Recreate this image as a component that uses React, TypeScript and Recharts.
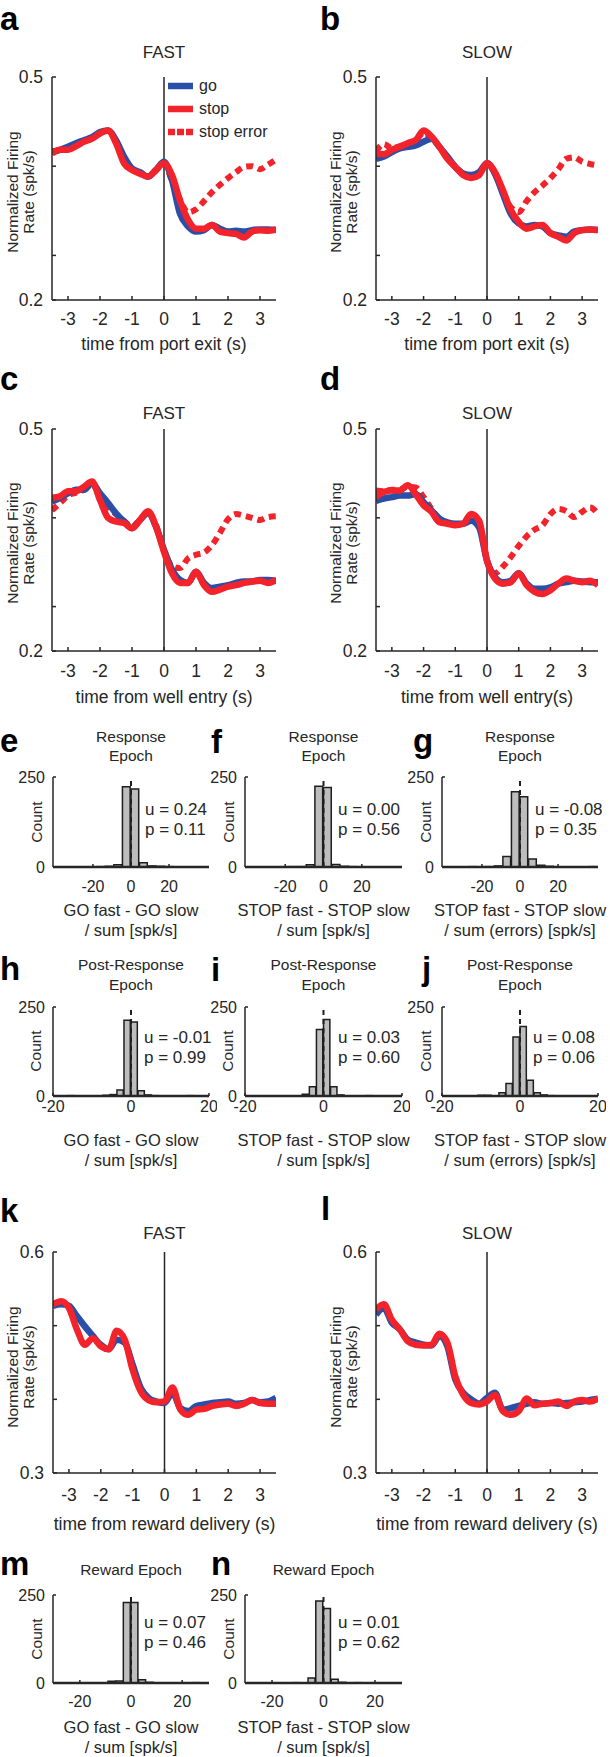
import React from 'react'
import { LineChart, Line, XAxis, YAxis, ReferenceLine, BarChart, Bar } from 'recharts'

const FONT = '"Liberation Sans", Arial, Helvetica, sans-serif'
const INK = '#262626'
const GO_BLUE = '#2a4fa8'
const STOP_RED = '#f2232b'
const BAR_GRAY = '#bdbdbd'

// time axis shared by every PSTH panel (s)
const times = [
  -3.5, -3.25, -3, -2.75, -2.5, -2.25, -2, -1.75, -1.5, -1.25, -1, -0.75, -0.5, -0.25,
  0, 0.25, 0.5, 0.75, 1, 1.25, 1.5, 1.75, 2, 2.25, 2.5, 2.75, 3, 3.25, 3.5,
]
const timeTicks = [-3, -2, -1, 0, 1, 2, 3]

// a: FAST, port exit
const aGo = [0.399, 0.402, 0.406, 0.411, 0.415, 0.419, 0.426, 0.428, 0.415, 0.393, 0.377, 0.372, 0.366, 0.375, 0.386, 0.361, 0.316, 0.299, 0.292, 0.294, 0.301, 0.296, 0.292, 0.293, 0.292, 0.294, 0.295, 0.295, 0.294]
const aStop = [0.397, 0.402, 0.402, 0.407, 0.413, 0.417, 0.424, 0.428, 0.411, 0.384, 0.375, 0.37, 0.366, 0.375, 0.384, 0.368, 0.334, 0.308, 0.296, 0.296, 0.301, 0.292, 0.29, 0.289, 0.284, 0.292, 0.294, 0.293, 0.295]
const aErr = [0.4, 0.402, 0.405, 0.409, 0.414, 0.418, 0.425, 0.428, 0.413, 0.388, 0.376, 0.371, 0.366, 0.374, 0.384, 0.36, 0.335, 0.318, 0.322, 0.333, 0.345, 0.355, 0.364, 0.372, 0.379, 0.38, 0.376, 0.382, 0.389]
// b: SLOW, port exit
const bGo = [0.39, 0.393, 0.399, 0.404, 0.406, 0.408, 0.413, 0.417, 0.406, 0.393, 0.379, 0.37, 0.368, 0.372, 0.384, 0.37, 0.343, 0.316, 0.303, 0.299, 0.301, 0.299, 0.29, 0.287, 0.285, 0.292, 0.294, 0.295, 0.294]
const bStop = [0.397, 0.396, 0.402, 0.406, 0.411, 0.415, 0.428, 0.42, 0.406, 0.39, 0.379, 0.368, 0.364, 0.368, 0.384, 0.372, 0.348, 0.321, 0.305, 0.296, 0.299, 0.301, 0.29, 0.285, 0.28, 0.29, 0.294, 0.295, 0.294]
const bErr = [0.4, 0.41, 0.404, 0.407, 0.41, 0.414, 0.425, 0.418, 0.406, 0.39, 0.38, 0.37, 0.366, 0.37, 0.384, 0.37, 0.345, 0.325, 0.318, 0.333, 0.345, 0.354, 0.364, 0.376, 0.39, 0.392, 0.386, 0.383, 0.381]
// c: FAST, well entry
const cGo = [0.402, 0.407, 0.413, 0.418, 0.418, 0.427, 0.413, 0.4, 0.386, 0.375, 0.366, 0.377, 0.386, 0.368, 0.337, 0.31, 0.296, 0.292, 0.307, 0.292, 0.285, 0.287, 0.289, 0.292, 0.294, 0.294, 0.296, 0.296, 0.295]
const cStop = [0.407, 0.409, 0.416, 0.416, 0.422, 0.429, 0.404, 0.38, 0.375, 0.373, 0.366, 0.377, 0.389, 0.368, 0.334, 0.305, 0.292, 0.292, 0.307, 0.289, 0.28, 0.283, 0.287, 0.289, 0.292, 0.294, 0.295, 0.292, 0.296]
const cErr = [0.39, 0.4, 0.41, 0.414, 0.418, 0.425, 0.41, 0.395, 0.385, 0.376, 0.368, 0.378, 0.387, 0.37, 0.335, 0.315, 0.312, 0.325, 0.33, 0.333, 0.343, 0.36, 0.378, 0.385, 0.383, 0.38, 0.377, 0.381, 0.382]
// d: SLOW, well entry
const dGo = [0.403, 0.406, 0.408, 0.41, 0.41, 0.412, 0.401, 0.39, 0.379, 0.374, 0.372, 0.372, 0.376, 0.367, 0.322, 0.3, 0.293, 0.295, 0.305, 0.291, 0.284, 0.284, 0.286, 0.291, 0.293, 0.295, 0.294, 0.293, 0.293]
const dStop = [0.408, 0.415, 0.417, 0.417, 0.424, 0.412, 0.397, 0.388, 0.374, 0.372, 0.37, 0.372, 0.385, 0.376, 0.322, 0.298, 0.291, 0.293, 0.305, 0.289, 0.28, 0.277, 0.282, 0.291, 0.298, 0.295, 0.293, 0.295, 0.289]
const dErr = [0.417, 0.416, 0.418, 0.418, 0.422, 0.421, 0.408, 0.392, 0.378, 0.373, 0.371, 0.373, 0.384, 0.374, 0.322, 0.305, 0.314, 0.327, 0.342, 0.355, 0.364, 0.37, 0.385, 0.392, 0.389, 0.381, 0.388, 0.394, 0.385]
// k: FAST, reward delivery
const kGo = [0.527, 0.529, 0.527, 0.513, 0.499, 0.486, 0.474, 0.468, 0.481, 0.477, 0.447, 0.416, 0.402, 0.397, 0.395, 0.409, 0.388, 0.384, 0.391, 0.393, 0.395, 0.396, 0.397, 0.394, 0.395, 0.399, 0.396, 0.397, 0.402]
const kStop = [0.529, 0.533, 0.524, 0.495, 0.474, 0.483, 0.472, 0.468, 0.493, 0.481, 0.44, 0.411, 0.399, 0.396, 0.397, 0.416, 0.386, 0.379, 0.386, 0.387, 0.391, 0.393, 0.394, 0.391, 0.394, 0.399, 0.395, 0.394, 0.394]
// l: SLOW, reward delivery
const lGo = [0.515, 0.524, 0.504, 0.495, 0.481, 0.477, 0.474, 0.473, 0.486, 0.472, 0.427, 0.409, 0.4, 0.394, 0.402, 0.409, 0.386, 0.388, 0.391, 0.394, 0.396, 0.394, 0.395, 0.394, 0.395, 0.396, 0.397, 0.399, 0.401]
const lStop = [0.522, 0.529, 0.508, 0.495, 0.479, 0.474, 0.473, 0.474, 0.489, 0.477, 0.431, 0.406, 0.395, 0.393, 0.397, 0.406, 0.384, 0.379, 0.384, 0.401, 0.392, 0.394, 0.395, 0.397, 0.391, 0.397, 0.399, 0.397, 0.401]

// histograms: bin centres and counts
const eBins = [-15.75, -11.25, -6.75, -2.25, 2.25, 6.75, 11.25, 15.75, 20.25]
const eCounts = [1, 2, 6, 223, 217, 12, 3, 2, 1]
const fBins = [-15.75, -11.25, -6.75, -2.25, 2.25, 6.75, 11.25, 15.75]
const fCounts = [1, 1, 6, 224, 221, 7, 2, 1]
const gBins = [-24.75, -15.75, -11.25, -6.75, -2.25, 2.25, 6.75, 11.25, 15.75, 38.25]
const gCounts = [1, 1, 3, 29, 209, 195, 22, 5, 2, 1]
const hBins = [-15.3, -6.3, -4.5, -2.7, -0.9, 0.9, 2.7, 4.5, 6.3, 15.3]
const hCounts = [1, 2, 4, 17, 213, 208, 15, 3, 1, 1]
const iBins = [-4.5, -2.7, -0.9, 0.9, 2.7, 4.5, 11.7]
const iCounts = [5, 26, 187, 215, 26, 3, 1]
const jBins = [-9.9, -8.1, -4.5, -2.7, -0.9, 0.9, 2.7, 4.5, 6.3, 8.1]
const jCounts = [2, 2, 9, 35, 166, 195, 44, 9, 3, 1]
const mBins = [-7.5, -4.5, -1.5, 1.5, 4.5, 7.5, 25.5]
const mCounts = [5, 6, 229, 229, 9, 2, 1]
const nBins = [-10.5, -4.5, -1.5, 1.5, 4.5, 7.5, 13.5]
const nCounts = [1, 14, 233, 212, 11, 2, 1]
const histTicks = [-20, 0, 20]

const legendItems = [
  { name: 'go', color: GO_BLUE, dashed: false },
  { name: 'stop', color: STOP_RED, dashed: false },
  { name: 'stop error', color: STOP_RED, dashed: true },
]

type Box = { x0: number; y0: number; x1: number; y1: number }

const YW = 50
const MT = 14
const MR = 8
const XH = 40

const axisStyle = { stroke: INK, strokeWidth: 1.5 }
const tickText = (size: number) => ({ fontSize: size, fill: INK, fontFamily: FONT })

function TracePanel(props: {
  box: Box
  yDomain: [number, number]
  yTicks: number[]
  yLabeled: number[]
  go: number[]
  stop: number[]
  err?: number[]
  tickGap: number
}) {
  const { box, yDomain, yTicks, yLabeled, go, stop, err, tickGap } = props
  const data = times.map((t, i) => ({ t, go: go[i], stop: stop[i], err: err ? err[i] : undefined }))
  const w = box.x1 - box.x0 + YW + MR
  const h = box.y1 - box.y0 + MT + XH
  return (
    <div style={{ position: 'absolute', left: box.x0 - YW, top: box.y0 - MT }}>
      <LineChart width={w} height={h} data={data} margin={{ top: MT, right: MR, bottom: 0, left: 0 }}>
        <XAxis
          type="number" dataKey="t" domain={[-3.5, 3.5]} ticks={timeTicks} interval={0} height={XH}
          tickSize={-4} tickMargin={tickGap} tick={tickText(17.5)} axisLine={axisStyle} tickLine={axisStyle}
          allowDataOverflow
        />
        <YAxis
          type="number" domain={yDomain} ticks={yTicks} interval={0} width={YW}
          tickSize={-4} tickMargin={13} tick={tickText(17.5)} axisLine={axisStyle} tickLine={axisStyle}
          tickFormatter={(v: number) => (yLabeled.includes(v) ? String(v) : '')}
          allowDataOverflow
        />
        <ReferenceLine x={0} stroke={INK} strokeWidth={1.5} />
        {err && (
          <Line dataKey="err" type="monotone" stroke={STOP_RED} strokeWidth={6} strokeDasharray="7 5"
            dot={false} activeDot={false} isAnimationActive={false} />
        )}
        <Line dataKey="go" type="monotone" stroke={GO_BLUE} strokeWidth={6.5} strokeLinejoin="round"
          dot={false} activeDot={false} isAnimationActive={false} />
        <Line dataKey="stop" type="monotone" stroke={STOP_RED} strokeWidth={6.5} strokeLinejoin="round"
          dot={false} activeDot={false} isAnimationActive={false} />
      </LineChart>
    </div>
  )
}

function HistPanel(props: {
  box: Box
  bins: number[]
  counts: number[]
  xDomain: [number, number]
  binWidth: number
  tickGap: number
}) {
  const { box, bins, counts, xDomain, binWidth, tickGap } = props
  const data = bins.map((x, i) => ({ x, n: counts[i] }))
  const w = box.x1 - box.x0 + YW + MR
  const h = box.y1 - box.y0 + MT + XH
  const barSize = ((box.x1 - box.x0) / (xDomain[1] - xDomain[0])) * binWidth
  return (
    <div style={{ position: 'absolute', left: box.x0 - YW, top: box.y0 - MT }}>
      <BarChart width={w} height={h} data={data} margin={{ top: MT, right: MR, bottom: 0, left: 0 }}
        barCategoryGap={0} barGap={0}>
        <XAxis
          type="number" dataKey="x" domain={xDomain} ticks={histTicks} interval={0} height={XH}
          tickSize={-3} tickMargin={tickGap} tick={tickText(16)} axisLine={{ stroke: INK, strokeWidth: 2.5 }}
          tickLine={axisStyle} allowDataOverflow
        />
        <YAxis
          type="number" domain={[0, 250]} ticks={[0, 250]} interval={0} width={YW}
          tickSize={-3} tickMargin={11} tick={tickText(16)} axisLine={axisStyle} tickLine={axisStyle}
          allowDataOverflow
        />
        <Bar dataKey="n" fill={BAR_GRAY} stroke="#1e1e1e" strokeWidth={1.5} barSize={barSize}
          isAnimationActive={false} />
        <ReferenceLine x={0} stroke="#1e1e1e" strokeWidth={2} strokeDasharray="5 4" />
      </BarChart>
    </div>
  )
}

function T(props: {
  x: number
  y: number
  children: React.ReactNode
  size?: number
  anchor?: 'start' | 'middle' | 'end'
  rotate?: boolean
  lh?: number
}) {
  const { x, y, children, size = 17, anchor = 'middle', rotate = false, lh } = props
  const tx = anchor === 'middle' ? '-50%' : anchor === 'end' ? '-100%' : '0'
  return (
    <div
      style={{
        position: 'absolute', left: x, top: y,
        transform: rotate ? 'translate(-50%, -50%) rotate(-90deg)' : `translate(${tx}, -50%)`,
        fontSize: size, lineHeight: lh ? `${lh}px` : 1, whiteSpace: 'pre', textAlign: 'center', color: INK,
      }}
    >
      {children}
    </div>
  )
}

// panel letter, placed by baseline
function Letter({ x, base, ch }: { x: number; base: number; ch: string }) {
  const size = 33
  return (
    <div style={{ position: 'absolute', left: x, top: base - 0.8465 * size, fontSize: size, lineHeight: 1, fontWeight: 700, color: '#000' }}>
      {ch}
    </div>
  )
}

function Legend() {
  return (
    <>
      {legendItems.map((it, i) => {
        const y = 86 + i * 23
        return (
          <React.Fragment key={it.name}>
            <svg style={{ position: 'absolute', left: 168, top: y - 4 }} width={26} height={8}>
              <line x1={0} y1={4} x2={25} y2={4} stroke={it.color} strokeWidth={6.5}
                strokeDasharray={it.dashed ? '7 2' : undefined} />
            </svg>
            <T x={199} y={y} size={16} anchor="start">{it.name}</T>
          </React.Fragment>
        )
      })}
    </>
  )
}

const A: Box = { x0: 52, y0: 77, x1: 276, y1: 300 }
const B: Box = { x0: 376, y0: 77, x1: 598, y1: 300 }
const C: Box = { x0: 52, y0: 429, x1: 276, y1: 651 }
const D: Box = { x0: 376, y0: 429, x1: 598, y1: 651 }
const E: Box = { x0: 53, y0: 777, x1: 209, y1: 867 }
const F: Box = { x0: 245, y0: 777, x1: 402, y1: 867 }
const G: Box = { x0: 442, y0: 777, x1: 598, y1: 867 }
const H: Box = { x0: 53, y0: 1007, x1: 209, y1: 1096 }
const I: Box = { x0: 245, y0: 1007, x1: 402, y1: 1096 }
const J: Box = { x0: 442, y0: 1007, x1: 598, y1: 1096 }
const K: Box = { x0: 53, y0: 1252, x1: 276, y1: 1473 }
const L: Box = { x0: 376, y0: 1252, x1: 598, y1: 1473 }
const M: Box = { x0: 53, y0: 1595, x1: 209, y1: 1683 }
const N: Box = { x0: 245, y0: 1595, x1: 402, y1: 1683 }

const mid = (b: Box) => (b.x0 + b.x1) / 2
const YLAB = 'Normalized Firing\nRate (spk/s)'

export default function App() {
  const psthTicks = [0.2, 0.26, 0.38, 0.5]
  const rewardTicks = [0.3, 0.4, 0.5, 0.6]
  return (
    <div style={{ position: 'absolute', left: 0, top: 0, width: 610, height: 1757, background: '#fff', fontFamily: FONT, overflow: 'hidden' }}>
      <TracePanel box={A} yDomain={[0.2, 0.5]} yTicks={psthTicks} yLabeled={[0.2, 0.5]} go={aGo} stop={aStop} err={aErr} tickGap={17} />
      <TracePanel box={B} yDomain={[0.2, 0.5]} yTicks={psthTicks} yLabeled={[0.2, 0.5]} go={bGo} stop={bStop} err={bErr} tickGap={17} />
      <TracePanel box={C} yDomain={[0.2, 0.5]} yTicks={psthTicks} yLabeled={[0.2, 0.5]} go={cGo} stop={cStop} err={cErr} tickGap={18} />
      <TracePanel box={D} yDomain={[0.2, 0.5]} yTicks={psthTicks} yLabeled={[0.2, 0.5]} go={dGo} stop={dStop} err={dErr} tickGap={18} />
      <TracePanel box={K} yDomain={[0.3, 0.6]} yTicks={rewardTicks} yLabeled={[0.3, 0.6]} go={kGo} stop={kStop} tickGap={20} />
      <TracePanel box={L} yDomain={[0.3, 0.6]} yTicks={rewardTicks} yLabeled={[0.3, 0.6]} go={lGo} stop={lStop} tickGap={20} />

      <HistPanel box={E} bins={eBins} counts={eCounts} xDomain={[-41, 41]} binWidth={4.5} tickGap={17} />
      <HistPanel box={F} bins={fBins} counts={fCounts} xDomain={[-41, 41]} binWidth={4.5} tickGap={17} />
      <HistPanel box={G} bins={gBins} counts={gCounts} xDomain={[-41, 41]} binWidth={4.5} tickGap={17} />
      <HistPanel box={H} bins={hBins} counts={hCounts} xDomain={[-20, 20]} binWidth={1.8} tickGap={7.5} />
      <HistPanel box={I} bins={iBins} counts={iCounts} xDomain={[-20, 20]} binWidth={1.8} tickGap={7.5} />
      <HistPanel box={J} bins={jBins} counts={jCounts} xDomain={[-20, 20]} binWidth={1.8} tickGap={7.5} />
      <HistPanel box={M} bins={mBins} counts={mCounts} xDomain={[-30.5, 30.5]} binWidth={3} tickGap={16} />
      <HistPanel box={N} bins={nBins} counts={nCounts} xDomain={[-30.5, 30.5]} binWidth={3} tickGap={16} />

      <Legend />

      <Letter x={0} base={30} ch="a" />
      <Letter x={320} base={30} ch="b" />
      <Letter x={0} base={390} ch="c" />
      <Letter x={320} base={390} ch="d" />
      <Letter x={0} base={752} ch="e" />
      <Letter x={211} base={753} ch="f" />
      <Letter x={413} base={752} ch="g" />
      <Letter x={0} base={980} ch="h" />
      <Letter x={211} base={981} ch="i" />
      <Letter x={422} base={980} ch="j" />
      <Letter x={0} base={1222} ch="k" />
      <Letter x={321} base={1220} ch="l" />
      <Letter x={0} base={1575} ch="m" />
      <Letter x={211} base={1575} ch="n" />

      <T x={mid(A)} y={52}>FAST</T>
      <T x={mid(B)} y={52}>SLOW</T>
      <T x={mid(C)} y={413}>FAST</T>
      <T x={mid(D)} y={413}>SLOW</T>
      <T x={mid(K)} y={1233}>FAST</T>
      <T x={mid(L)} y={1233}>SLOW</T>

      <T x={mid(A)} y={345} size={17.5}>time from port exit (s)</T>
      <T x={mid(B)} y={345} size={17.5}>time from port exit (s)</T>
      <T x={mid(C)} y={698} size={17.5}>time from well entry (s)</T>
      <T x={mid(D)} y={698} size={17.5}>time from well entry(s)</T>
      <T x={mid(K)} y={1525} size={17.5}>time from reward delivery (s)</T>
      <T x={mid(L)} y={1525} size={17.5}>time from reward delivery (s)</T>

      <T x={21} y={192} size={15.5} lh={16} rotate>{YLAB}</T>
      <T x={344} y={192} size={15.5} lh={16} rotate>{YLAB}</T>
      <T x={21} y={543} size={15.5} lh={16} rotate>{YLAB}</T>
      <T x={344} y={543} size={15.5} lh={16} rotate>{YLAB}</T>
      <T x={21} y={1367} size={15.5} lh={16} rotate>{YLAB}</T>
      <T x={344} y={1367} size={15.5} lh={16} rotate>{YLAB}</T>

      <T x={mid(E)} y={737} size={15.5}>Response</T>
      <T x={mid(E)} y={756} size={15.5}>Epoch</T>
      <T x={mid(F)} y={737} size={15.5}>Response</T>
      <T x={mid(F)} y={756} size={15.5}>Epoch</T>
      <T x={mid(G)} y={737} size={15.5}>Response</T>
      <T x={mid(G)} y={756} size={15.5}>Epoch</T>
      <T x={mid(H)} y={965} size={15.5}>Post-Response</T>
      <T x={mid(H)} y={985} size={15.5}>Epoch</T>
      <T x={mid(I)} y={965} size={15.5}>Post-Response</T>
      <T x={mid(I)} y={985} size={15.5}>Epoch</T>
      <T x={mid(J)} y={965} size={15.5}>Post-Response</T>
      <T x={mid(J)} y={985} size={15.5}>Epoch</T>
      <T x={mid(M)} y={1570} size={15.5}>Reward Epoch</T>
      <T x={mid(N)} y={1570} size={15.5}>Reward Epoch</T>

      <T x={37} y={822} size={15.5} rotate>Count</T>
      <T x={229} y={822} size={15.5} rotate>Count</T>
      <T x={426} y={822} size={15.5} rotate>Count</T>
      <T x={36} y={1051} size={15.5} rotate>Count</T>
      <T x={228} y={1051} size={15.5} rotate>Count</T>
      <T x={426} y={1051} size={15.5} rotate>Count</T>
      <T x={37} y={1639} size={15.5} rotate>Count</T>
      <T x={229} y={1639} size={15.5} rotate>Count</T>

      <T x={145} y={809} anchor="start">u = 0.24</T>
      <T x={145} y={829} anchor="start">p = 0.11</T>
      <T x={338} y={809} anchor="start">u = 0.00</T>
      <T x={338} y={829} anchor="start">p = 0.56</T>
      <T x={535} y={809} anchor="start">u = -0.08</T>
      <T x={535} y={829} anchor="start">p = 0.35</T>
      <T x={144} y={1037} anchor="start">u = -0.01</T>
      <T x={144} y={1057} anchor="start">p = 0.99</T>
      <T x={338} y={1037} anchor="start">u = 0.03</T>
      <T x={338} y={1057} anchor="start">p = 0.60</T>
      <T x={533} y={1037} anchor="start">u = 0.08</T>
      <T x={533} y={1057} anchor="start">p = 0.06</T>
      <T x={144} y={1622} anchor="start">u = 0.07</T>
      <T x={144} y={1642} anchor="start">p = 0.46</T>
      <T x={338} y={1622} anchor="start">u = 0.01</T>
      <T x={338} y={1642} anchor="start">p = 0.62</T>

      <T x={mid(E)} y={910} size={16.5}>GO fast - GO slow</T>
      <T x={mid(E)} y={930} size={16.5}>/ sum [spk/s]</T>
      <T x={mid(F)} y={910} size={16.5}>STOP fast - STOP slow</T>
      <T x={mid(F)} y={930} size={16.5}>/ sum [spk/s]</T>
      <T x={mid(G)} y={910} size={16.5}>STOP fast - STOP slow</T>
      <T x={mid(G)} y={930} size={16.5}>/ sum (errors) [spk/s]</T>
      <T x={mid(H)} y={1140} size={16.5}>GO fast - GO slow</T>
      <T x={mid(H)} y={1160} size={16.5}>/ sum [spk/s]</T>
      <T x={mid(I)} y={1140} size={16.5}>STOP fast - STOP slow</T>
      <T x={mid(I)} y={1160} size={16.5}>/ sum [spk/s]</T>
      <T x={mid(J)} y={1140} size={16.5}>STOP fast - STOP slow</T>
      <T x={mid(J)} y={1160} size={16.5}>/ sum (errors) [spk/s]</T>
      <T x={mid(M)} y={1727} size={16.5}>GO fast - GO slow</T>
      <T x={mid(M)} y={1747} size={16.5}>/ sum [spk/s]</T>
      <T x={mid(N)} y={1727} size={16.5}>STOP fast - STOP slow</T>
      <T x={mid(N)} y={1747} size={16.5}>/ sum [spk/s]</T>
    </div>
  )
}
